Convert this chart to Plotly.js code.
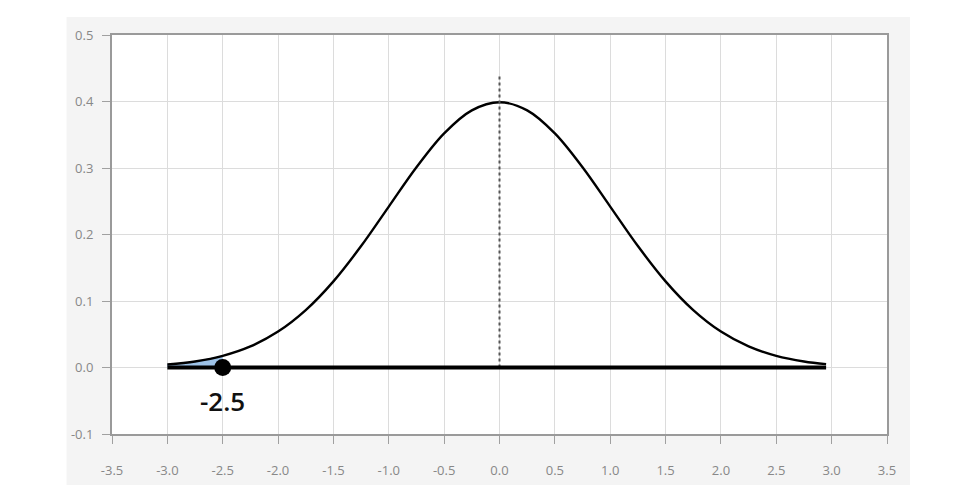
<!DOCTYPE html>
<html><head><meta charset="utf-8">
<script src="https://cdn.plot.ly/plotly-3.0.1.min.js"></script>
<style>html,body{margin:0;padding:0;background:#fff}#chart{width:965px;height:500px}</style>
</head><body><div id="chart"></div>
<script>
// Curve values (standard normal density)
const curveX = [-3.0,-2.75,-2.5,-2.25,-2.0,-1.75,-1.5,-1.25,-1.0,-0.75,-0.5,-0.25,0,0.25,0.5,0.75,1.0,1.25,1.5,1.75,2.0,2.25,2.5,2.75,2.95];
const curveY = [0.0044,0.0091,0.0175,0.0317,0.0540,0.0863,0.1295,0.1826,0.2420,0.3011,0.3521,0.3867,0.3989,0.3867,0.3521,0.3011,0.2420,0.1826,0.1295,0.0863,0.0540,0.0317,0.0175,0.0091,0.0051];
const tailX = [-3.0,-2.75,-2.5];
const tailY = [0.0044,0.0091,0.0175];
const baseX = [-3.0, 2.95];
const baseY = [0, 0];
const meanLineX = [0, 0];
const meanLineY = [0, 0.44];
const pointX = [-2.5];
const pointY = [0];
const pointLabel = "-2.5";
const xTicks = [-3.5,-3.0,-2.5,-2.0,-1.5,-1.0,-0.5,0.0,0.5,1.0,1.5,2.0,2.5,3.0,3.5];
const xTickText = ["-3.5","-3.0","-2.5","-2.0","-1.5","-1.0","-0.5","0.0","0.5","1.0","1.5","2.0","2.5","3.0","3.5"];
const yTicks = [-0.1,0.0,0.1,0.2,0.3,0.4,0.5];
const yTickText = ["-0.1","0.0","0.1","0.2","0.3","0.4","0.5"];

const traces = [
  {x: tailX, y: tailY, type:'scatter', mode:'lines', line:{shape:'spline', color:'#7aa8d8', width:1}, fill:'tozeroy', fillcolor:'#9ec3e8', hoverinfo:'skip'},
  {x: curveX, y: curveY, type:'scatter', mode:'lines', line:{shape:'spline', color:'#000', width:2.4}},
  {x: meanLineX, y: meanLineY, type:'scatter', mode:'lines', line:{color:'#555', width:2, dash:'dot'}},
  {x: baseX, y: baseY, type:'scatter', mode:'lines', line:{color:'#000', width:4}},
  {x: pointX, y: pointY, type:'scatter', mode:'markers', marker:{color:'#000', size:17}}
];

const axisCommon = {
  showline:true, mirror:true, linecolor:'#9a9a9a', linewidth:2,
  ticks:'outside', ticklen:8, tickcolor:'#a0a0a0', tickwidth:1,
  showgrid:true, gridcolor:'#dcdcdc', gridwidth:1, zeroline:false,
  tickfont:{family:'Open Sans, sans-serif', size:13, color:'#888'}
};

const layout = {
  width:965, height:500,
  margin:{l:111.5, r:78, t:35, b:66},
  paper_bgcolor:'#ffffff', plot_bgcolor:'rgba(0,0,0,0)',
  showlegend:false,
  xaxis: Object.assign({}, axisCommon, {range:[-3.5,3.5], tickvals:xTicks, ticktext:xTickText, ticklabelstandoff:15}),
  yaxis: Object.assign({}, axisCommon, {range:[-0.1,0.5], tickvals:yTicks, ticktext:yTickText, ticklabelstandoff:6}),
  shapes:[
    {type:'rect', xref:'paper', yref:'paper', x0:-0.0587, x1:1.0296, y0:-0.128, y1:1.045, fillcolor:'#f4f4f4', line:{width:0}, layer:'below'},
    {type:'rect', xref:'paper', yref:'paper', x0:0, x1:1, y0:0, y1:1, fillcolor:'#ffffff', line:{width:0}, layer:'below'}
  ],
  annotations:[
    {x: pointX[0], y: pointY[0], xref:'x', yref:'y', text: pointLabel, showarrow:false, yshift:-33, xshift:0,
     font:{family:'Open Sans, sans-serif', size:26, color:'#111', weight:600}}
  ]
};
Plotly.newPlot('chart', traces, layout, {displayModeBar:false, staticPlot:true});
</script>
</body></html>
